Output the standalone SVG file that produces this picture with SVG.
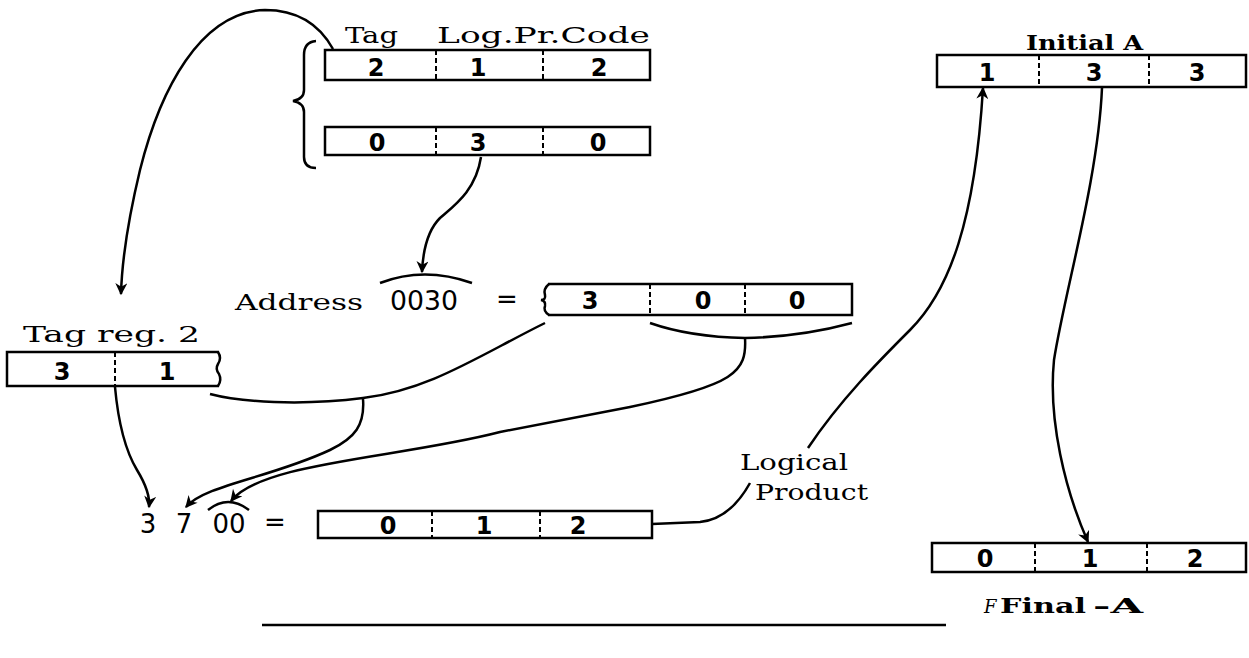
<svg xmlns="http://www.w3.org/2000/svg" width="1249" height="658" viewBox="0 0 1249 658">
<style>
.box{fill:none;stroke:#000;stroke-width:2.5}
.div{stroke:#000;stroke-width:2;stroke-dasharray:5,3}
.ln{fill:none;stroke:#000;stroke-width:2.5}
.lbl{font-family:"DejaVu Serif","Liberation Serif",serif;font-size:23px;fill:#000}
.dig{font-family:"DejaVu Sans","Liberation Sans",sans-serif;font-size:24px;font-weight:bold;fill:#000;text-anchor:middle}
.num{font-family:"DejaVu Sans","Liberation Sans",sans-serif;font-size:26px;fill:#000}
.bold{font-family:"DejaVu Serif","Liberation Serif",serif;font-size:21px;font-weight:bold;fill:#000}
</style>
<defs>
<marker id="ah2" viewBox="0 0 10 10" refX="9" refY="5" markerWidth="14" markerHeight="12" orient="auto" markerUnits="userSpaceOnUse">
<path d="M0,0 L10,5 L0,10 L3,5 Z" fill="#000"/>
</marker>
</defs>

<g id="instruction-word">
<text class="lbl" x="345" y="43" textLength="53" lengthAdjust="spacingAndGlyphs">Tag</text>
<text class="lbl" x="437" y="43" textLength="213" lengthAdjust="spacingAndGlyphs">Log.Pr.Code</text>
<rect class="box" x="325" y="50" width="325" height="30"/>
<line class="div" x1="436" y1="50" x2="436" y2="80"/>
<line class="div" x1="543" y1="50" x2="543" y2="80"/>
<text class="dig" x="376" y="76">2</text>
<text class="dig" x="478" y="76">1</text>
<text class="dig" x="599" y="76">2</text>
<rect class="box" x="325" y="127" width="325" height="28"/>
<line class="div" x1="436" y1="127" x2="436" y2="155"/>
<line class="div" x1="543" y1="127" x2="543" y2="155"/>
<text class="dig" x="377" y="151">0</text>
<text class="dig" x="478" y="151">3</text>
<text class="dig" x="598" y="151">0</text>
<path class="ln" d="M316,41 Q304,42 304,55 L304,90 Q304,99 293,101 Q304,103 304,112 L304,157 Q304,168 316,168"/>
</g>

<g id="tag-reg-2">
<text class="lbl" x="23" y="342" textLength="177" lengthAdjust="spacingAndGlyphs">Tag reg. 2</text>
<path class="box" d="M219,352 L7,352 L7,386 L219,386"/>
<path class="ln" d="M218,352 Q222,358 218,364 Q215,369 219,374 Q222,380 218,386"/>
<line class="div" x1="115" y1="352" x2="115" y2="386"/>
<text class="dig" x="62" y="380">3</text>
<text class="dig" x="167" y="380">1</text>
</g>

<g id="address">
<text class="lbl" x="235" y="310" textLength="128" lengthAdjust="spacingAndGlyphs">Address</text>
<text class="num" x="390" y="310" textLength="68" lengthAdjust="spacingAndGlyphs">0030</text>
<path class="ln" d="M380,283 Q424,266 472,283"/>
<text class="num" x="496" y="308">=</text>
<path class="box" d="M548,284 L852,284 L852,315 L548,315"/>
<path class="ln" d="M549,284 Q543,289 545,295 Q546,300 541,300 Q546,301 545,306 Q543,311 549,315"/>
<line class="div" x1="650" y1="284" x2="650" y2="315"/>
<line class="div" x1="745" y1="284" x2="745" y2="315"/>
<text class="dig" x="590" y="309">3</text>
<text class="dig" x="703" y="309">0</text>
<text class="dig" x="797" y="309">0</text>
<path class="ln" d="M650,323 Q690,337 745,338 Q800,337 852,323"/>
</g>

<g id="result">
<text class="num" x="148" y="533" text-anchor="middle">3</text>
<text class="num" x="184" y="533" text-anchor="middle">7</text>
<text class="num" x="229" y="533" text-anchor="middle">00</text>
<path class="ln" d="M208,510 Q228,494 249,510"/>
<text class="num" x="275" y="531" text-anchor="middle">=</text>
<rect class="box" x="318" y="511" width="334" height="27"/>
<line class="div" x1="432" y1="511" x2="432" y2="538"/>
<line class="div" x1="540" y1="511" x2="540" y2="538"/>
<text class="dig" x="388" y="534">0</text>
<text class="dig" x="484" y="534">1</text>
<text class="dig" x="578" y="534">2</text>
</g>

<g id="logical-product">
<text class="lbl" x="740" y="470" textLength="108" lengthAdjust="spacingAndGlyphs">Logical</text>
<text class="lbl" x="755" y="500" textLength="113" lengthAdjust="spacingAndGlyphs">Product</text>
</g>

<g id="initial-a">
<text class="bold" x="1026" y="50" textLength="117" lengthAdjust="spacingAndGlyphs">Initial  A</text>
<rect class="box" x="937" y="55" width="309" height="32"/>
<line class="div" x1="1039" y1="55" x2="1039" y2="87"/>
<line class="div" x1="1149" y1="55" x2="1149" y2="87"/>
<text class="dig" x="987" y="81">1</text>
<text class="dig" x="1094" y="81">3</text>
<text class="dig" x="1197" y="81">3</text>
</g>

<g id="final-a">
<rect class="box" x="932" y="543" width="314" height="29"/>
<line class="div" x1="1035" y1="543" x2="1035" y2="572"/>
<line class="div" x1="1147" y1="543" x2="1147" y2="572"/>
<text class="dig" x="985" y="567">0</text>
<text class="dig" x="1090" y="567">1</text>
<text class="dig" x="1195" y="567">2</text>
<text x="984" y="613" style="font-family:'DejaVu Serif',serif;font-size:18px;font-style:italic;fill:#000">F</text>
<text class="bold" x="1000" y="613" textLength="86" lengthAdjust="spacingAndGlyphs">Final</text>
<text class="bold" x="1093" y="613" textLength="50" lengthAdjust="spacingAndGlyphs">-A</text>
</g>

<g id="connectors">
<path class="ln" marker-end="url(#ah2)" d="M333,49 C318,22 295,10 265,10 C200,12 160,90 140,170 C128,220 122,260 121,294"/>
<path class="ln" marker-end="url(#ah2)" d="M481,157 C476,190 455,205 440,218 C428,230 423,250 422,272"/>
<path class="ln" marker-end="url(#ah2)" d="M115,387 C118,420 125,450 137,470 C148,488 150,498 149,507"/>
<path class="ln" d="M210,394 C240,402 300,406 363,398 C430,390 480,355 545,323"/>
<path class="ln" marker-end="url(#ah2)" d="M363,399 C365,425 355,438 330,450 C270,478 205,485 186,507"/>
<path class="ln" marker-end="url(#ah2)" d="M745,338 C747,372 735,385 630,407 L500,432 C400,458 262,462 231,501"/>
<path class="ln" d="M652,524 L700,522 Q730,519 750,483"/>
<path class="ln" marker-end="url(#ah2)" d="M808,448 C840,400 880,360 910,330 C950,290 975,220 983,88"/>
<path class="ln" marker-end="url(#ah2)" d="M1102,88 C1098,180 1065,290 1054,360 C1048,420 1065,490 1088,542"/>
<line class="ln" x1="262" y1="625" x2="946" y2="625"/>
</g>
</svg>
